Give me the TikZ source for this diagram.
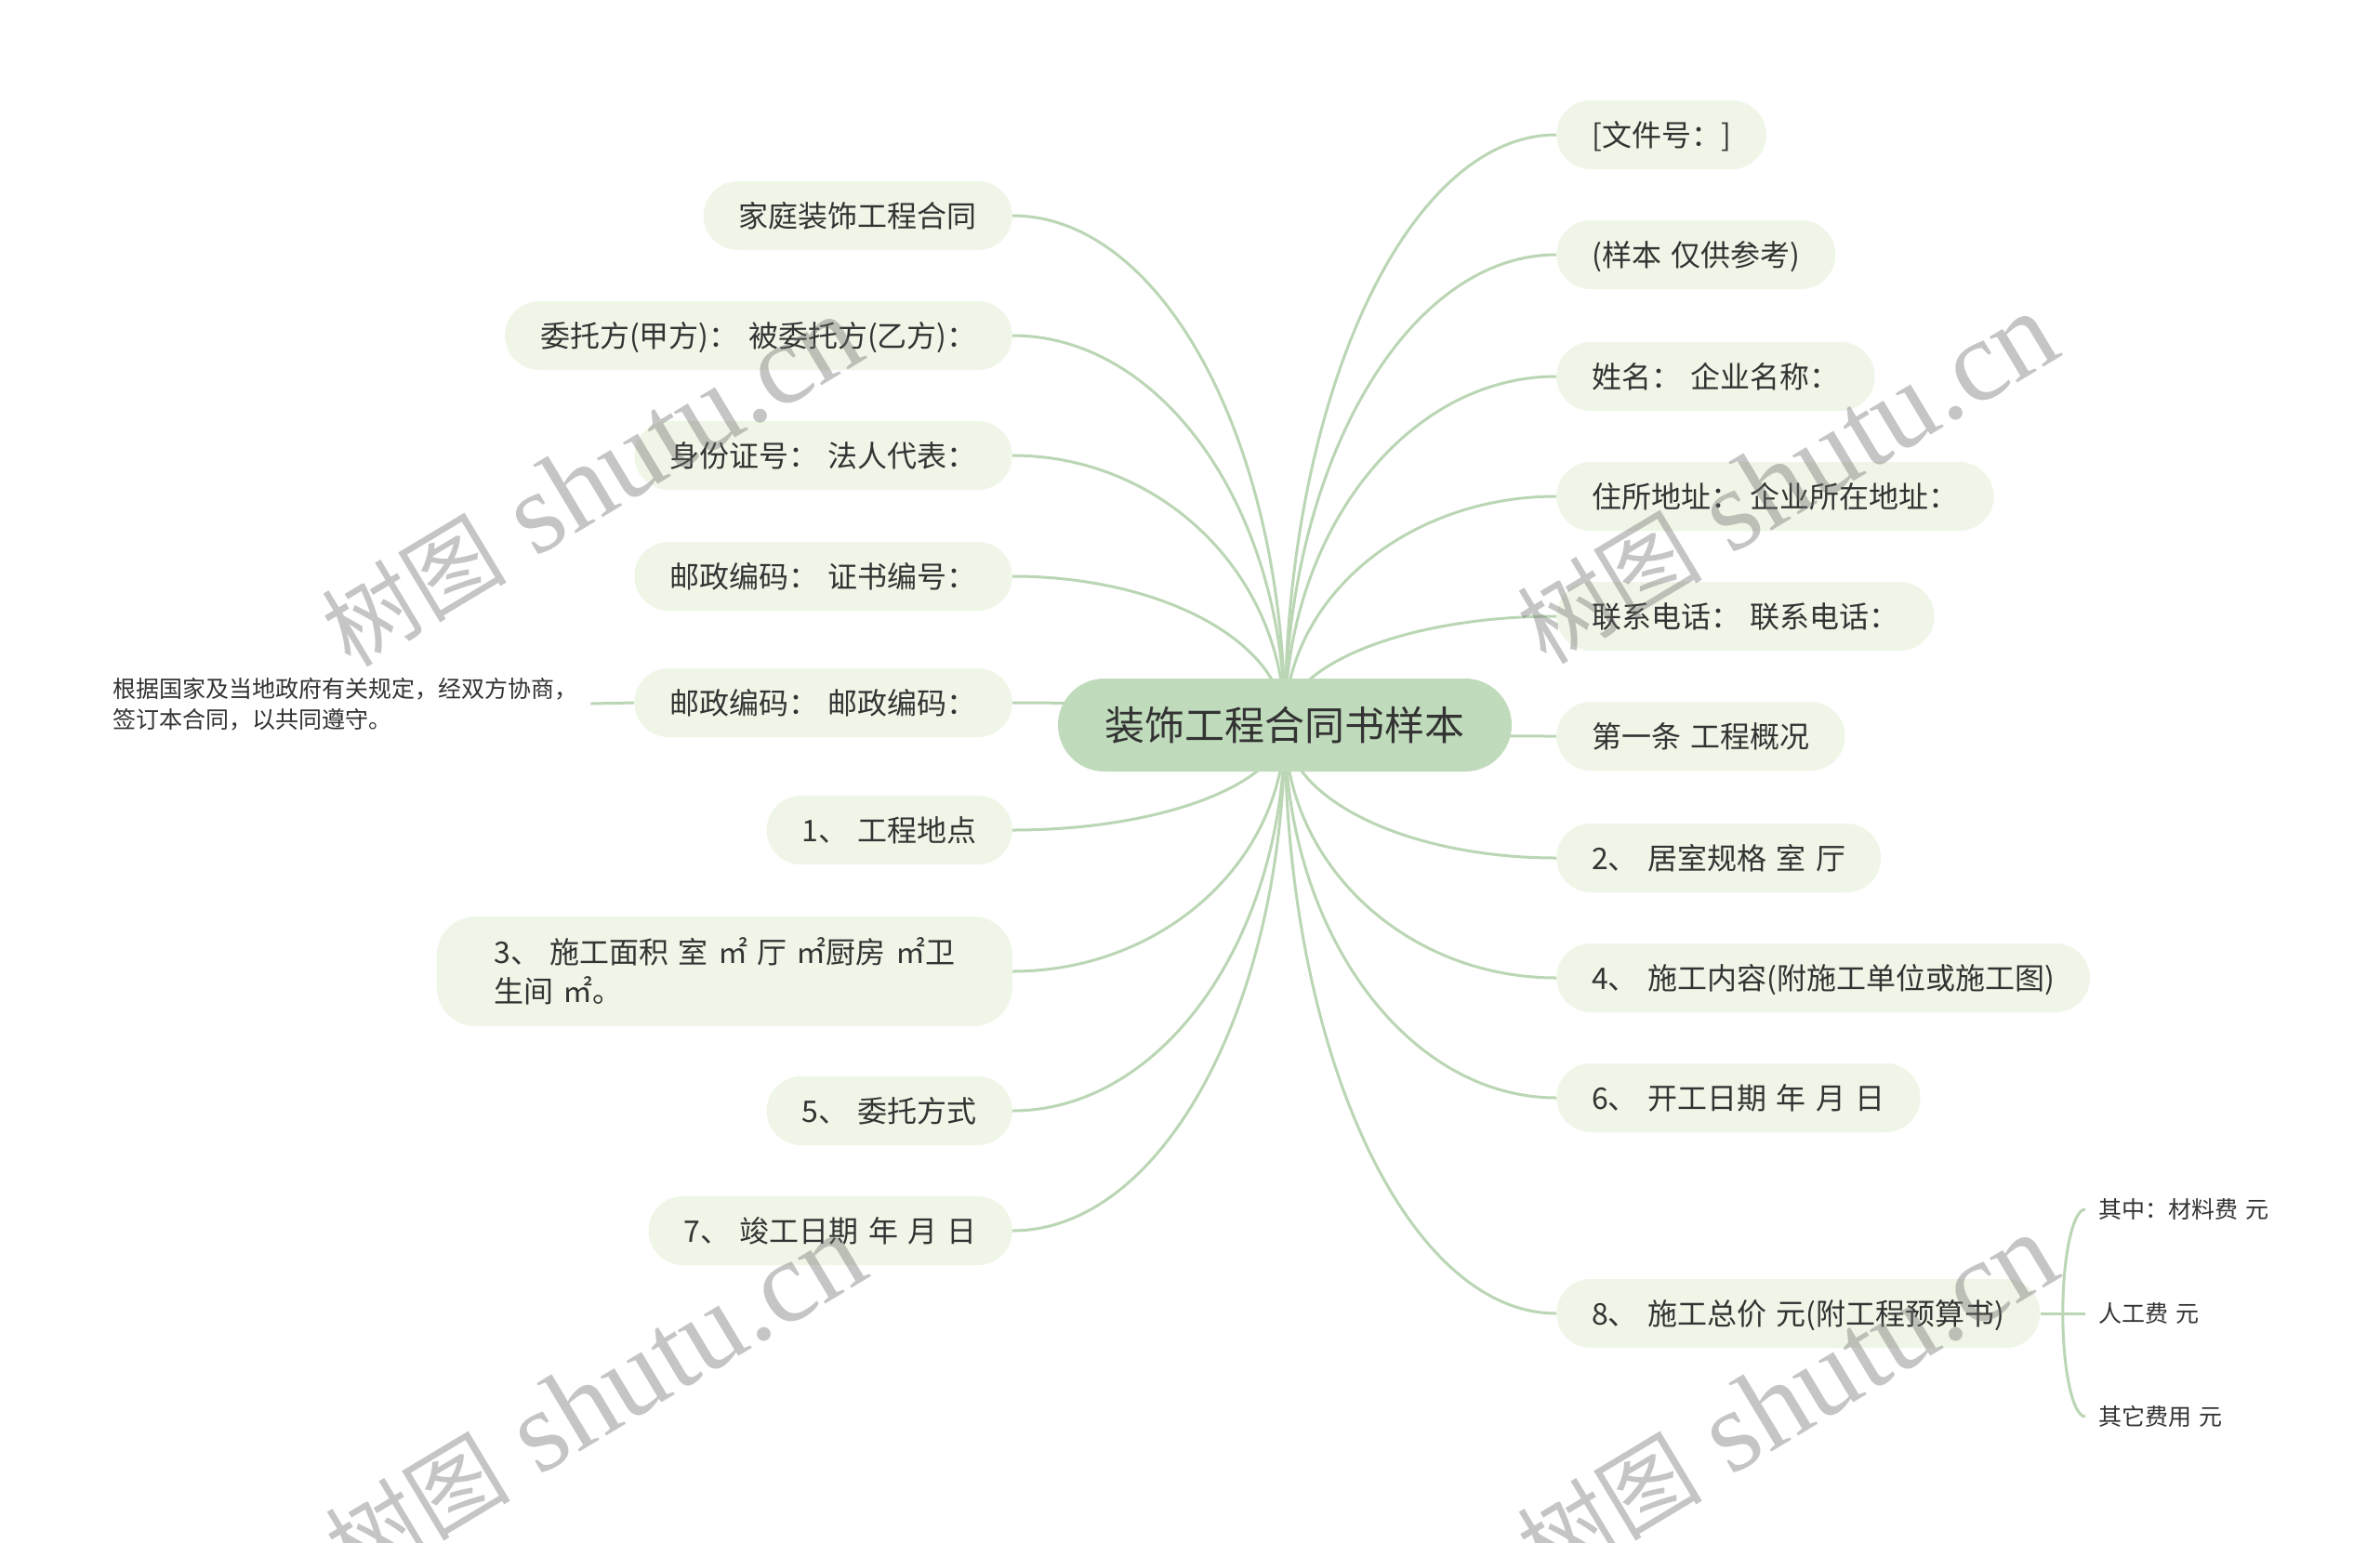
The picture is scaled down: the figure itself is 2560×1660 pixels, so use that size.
\documentclass[tikz,border=0pt]{standalone}
\usepackage{fontspec}
\setmainfont[WordSpace=1.45]{Noto Sans CJK SC}
\newfontfamily\wmcjk{Noto Sans CJK SC}
\newfontfamily\wmlatin{Liberation Serif}
\usetikzlibrary{calc,backgrounds}
\definecolor{linec}{RGB}{186,214,180}
\definecolor{nodefill}{RGB}{239,246,231}
\definecolor{rootfill}{RGB}{192,219,187}
\definecolor{txt}{RGB}{51,51,51}
\definecolor{wm}{RGB}{110,110,110}
\tikzset{
 topic/.style={fill=nodefill, rounded corners=37pt, inner xsep=38pt, inner ysep=0pt, minimum height=74pt, text=txt, font=\fontsize{32}{42}\selectfont, text height=28.2pt, text depth=3.8pt},
 rtopic/.style={topic, anchor=west},
 ltopic/.style={topic, anchor=east},
 root/.style={fill=rootfill, rounded corners=50pt, minimum width=488pt, minimum height=100pt, inner sep=0pt, text=txt, font=\fontsize{43}{50}\selectfont, text height=37.8pt, text depth=5.2pt},
 leaf/.style={text=txt, font=\fontsize{25}{33}\selectfont, inner xsep=14pt, inner ysep=0pt, text height=22pt, text depth=3pt},
 conn/.style={draw=linec, line width=3pt},
 wmark/.style={text=wm, opacity=0.4, text opacity=0.4, rotate=31, inner sep=0pt}
}
\newcommand\mmlink[2]{%
  \coordinate (tmpk) at (#1|-#2);
  \draw[conn] (#1) .. controls ($(#1)!0.552!(tmpk)$) and ($(#2)!0.552!(tmpk)$) .. (#2);}
\newcommand\wmtext{{\fontsize{100}{120}\wmcjk 树图}{\fontsize{125}{130}\wmlatin\ shutu.cn}}
\begin{document}
\begin{tikzpicture}[x=1pt,y=-1pt]
\useasboundingbox (0,0) rectangle (2560,1660);
% root
\node[root] (ctr) at (1382,780) {装饰工程合同书样本};
% left topics
\node[ltopic] (l1) at (1089,232) {家庭装饰工程合同};
\node[ltopic] (l2) at (1089,361) {委托方(甲方)： 被委托方(乙方)：};
\node[ltopic] (l3) at (1089,490) {身份证号： 法人代表：};
\node[ltopic] (l4) at (1089,620) {邮政编码： 证书编号：};
\node[ltopic] (l5) at (1089,756) {邮政编码： 邮政编码：};
\node[ltopic] (l6) at (1089,893) {1、 工程地点};
\node[ltopic, minimum width=619pt, minimum height=118pt, rounded corners=42pt, text height=70.2pt, text depth=3.8pt] (l7) at (1089,1045) {\vbox{\baselineskip=42pt\hbox{3、 施工面积 室 ㎡ 厅 ㎡厨房 ㎡卫}\hbox{生间 ㎡。}}};
\node[ltopic] (l8) at (1089,1195) {5、 委托方式};
\node[ltopic] (l9) at (1089,1324) {7、 竣工日期 年 月 日};
% leaf of l5
\node[leaf, anchor=west, text height=55pt, text depth=3pt] (leaf) at (107,757) {\vbox{\baselineskip=33pt\hbox{根据国家及当地政府有关规定，经双方协商，}\hbox{签订本合同，以共同遵守。}}};
% right topics
\node[rtopic] (r1) at (1674,145) {[文件号：]};
\node[rtopic] (r2) at (1674,274) {(样本 仅供参考)};
\node[rtopic] (r3) at (1674,405) {姓名： 企业名称：};
\node[rtopic] (r4) at (1674,534) {住所地址： 企业所在地址：};
\node[rtopic] (r5) at (1674,663) {联系电话： 联系电话：};
\node[rtopic] (r6) at (1674,792) {第一条 工程概况};
\node[rtopic] (r7) at (1674,923) {2、 居室规格 室 厅};
\node[rtopic] (r8) at (1674,1052) {4、 施工内容(附施工单位或施工图)};
\node[rtopic] (r9) at (1674,1181) {6、 开工日期 年 月 日};
\node[rtopic] (r10) at (1674,1413) {8、 施工总价 元(附工程预算书)};
% sub items of r10
\node[leaf, anchor=west] (s1) at (2243,1301) {其中：材料费 元};
\node[leaf, anchor=west] (s2) at (2243,1413) {人工费 元};
\node[leaf, anchor=west] (s3) at (2243,1524) {其它费用 元};
\coordinate (fork) at ($(r10.east)!0.5!(s2.west)$);
% connectors
\begin{scope}[on background layer]
\fill[white] (0,0) rectangle (2560,1660);
\foreach \n in {l1,l2,l3,l4,l5,l6,l7,l8,l9}{\mmlink{ctr.center}{\n.east}}
\foreach \n in {r1,r2,r3,r4,r5,r6,r7,r8,r9,r10}{\mmlink{ctr.center}{\n.west}}
\draw[conn] (l5.west) -- (leaf.east);
\draw[conn] (r10.east) -- (s2.west);
\mmlink{fork}{s1.west}
\mmlink{fork}{s3.west}
\end{scope}
% watermarks
\node[wmark] (wm1) at (636,518) {\wmtext};
\node[wmark] (wm2) at (1922,515) {\wmtext};
\node[wmark] (wm3) at (640,1506) {\wmtext};
\node[wmark] (wm4) at (1922,1506) {\wmtext};
\end{tikzpicture}
\end{document}
